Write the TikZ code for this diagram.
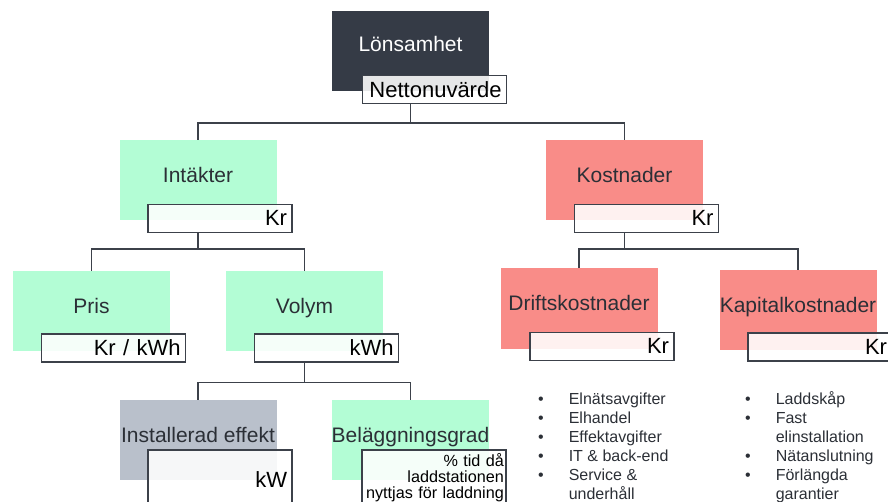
\documentclass[tikz,border=0pt]{standalone}
\usepackage{fontspec}
\setmainfont{Liberation Sans}
\usepackage{xcolor}
\usepackage{tikz}
\usetikzlibrary{calc,positioning}

\definecolor{morkgra}{HTML}{353B46}
\definecolor{gron}{HTML}{B3FDD5}
\definecolor{rod}{HTML}{F98C88}
\definecolor{ljusgra}{HTML}{B9C0CB}
\definecolor{linje}{HTML}{3C414A}
\definecolor{textfarg}{HTML}{2B2F36}

\tikzset{
  ruta/.style={minimum width=157pt,minimum height=80pt,inner sep=0pt,
    text height=15pt,text depth=10pt,text=textfarg,font=\fontsize{21}{24}\selectfont},
  enhet/.style={draw=linje,line width=1.3pt,fill=white,fill opacity=0.88,text opacity=1,
    text width=134pt,align=right,inner xsep=5pt,inner ysep=0pt,minimum height=28pt,
    anchor=north east,text=black,font=\fontsize{22}{24}\selectfont},
  gren/.style={draw=linje,line width=1.4pt},
  lista/.style={inner sep=0pt,anchor=north west,text=textfarg,font=\fontsize{16}{19}\selectfont},
}

\begin{document}
\begin{tikzpicture}[x=1pt,y=-1pt]
\useasboundingbox (0,0) rectangle (888,502);
\clip (0,0) rectangle (888,502);
% rutor
\node[ruta,fill=morkgra,text=white,text depth=15pt] (lon) at (410.5,51.5) {Lönsamhet};
\node[enhet] (netto) at ([shift={(18,-17)}]lon.south east) {Nettonuvärde};
\node[ruta,fill=gron] (int) at (198,180.5) {Intäkter};
\node[enhet] (intE) at ([shift={(16,-17)}]int.south east) {Kr};
\node[ruta,fill=rod] (kost) at (624.5,180.5) {Kostnader};
\node[enhet] (kostE) at ([shift={(16,-17)}]kost.south east) {Kr};
\node[ruta,fill=gron] (pris) at (91.5,311) {Pris};
\node[enhet] (prisE) at ([shift={(16,-18)}]pris.south east) {Kr / kWh};
\node[ruta,fill=gron] (volym) at (304.5,311) {Volym};
\node[enhet] (volymE) at ([shift={(16,-18)}]volym.south east) {kWh};
\node[ruta,fill=rod] (drift) at (579,308.5) {Driftskostnader};
\node[enhet] (driftE) at ([shift={(17,-17)}]drift.south east) {Kr};
\node[ruta,fill=rod] (kapital) at (798,310) {Kapitalkostnader};
\node[enhet] (kapitalE) at ([shift={(16,-18)}]kapital.south east) {Kr};
\node[ruta,fill=ljusgra] (inst) at (198,440) {Installerad effekt};
\node[enhet,minimum height=60pt] (instE) at ([shift={(16,-31)}]inst.south east) {kW};
\node[ruta,fill=gron] (belagg) at (410.5,440) {Beläggningsgrad};
\node[enhet,minimum height=56pt,inner xsep=2pt,text width=140pt,
  font=\fontsize{16.2}{16}\selectfont] (belaggE) at ([shift={(17,-31)}]belagg.south east)
  {\% tid då\\laddstationen\\nyttjas för laddning};
% grenar
\draw[gren] (lon.south |- netto.south) -- ++(0,19) -| (int.north);
\draw[gren] (lon.south |- netto.south) -- ++(0,19) -| (kost.north);
\draw[gren] (int.south |- intE.south) -- ++(0,16) -| (pris.north);
\draw[gren] (int.south |- intE.south) -- ++(0,16) -| (volym.north);
\draw[gren] (kost.south |- kostE.south) -- ++(0,16) -| (drift.north);
\draw[gren] (kost.south |- kostE.south) -- ++(0,16) -| (kapital.north);
\draw[gren] (volym.south |- volymE.south) -- ++(0,20) -| (inst.north);
\draw[gren] (volym.south |- volymE.south) -- ++(0,20) -| (belagg.north);
% listor
\node[lista] (driftLista) at (538,391) {\begin{tabular}{@{}l@{\hspace{25pt}}l@{}}
\textbullet & Elnätsavgifter\\
\textbullet & Elhandel\\
\textbullet & Effektavgifter\\
\textbullet & IT \& back-end\\
\textbullet & Service \&\\
 & underhåll
\end{tabular}};
\node[lista] (kapitalLista) at (745,391) {\begin{tabular}{@{}l@{\hspace{25pt}}l@{}}
\textbullet & Laddskåp\\
\textbullet & Fast\\
 & elinstallation\\
\textbullet & Nätanslutning\\
\textbullet & Förlängda\\
 & garantier
\end{tabular}};
\end{tikzpicture}
\end{document}
